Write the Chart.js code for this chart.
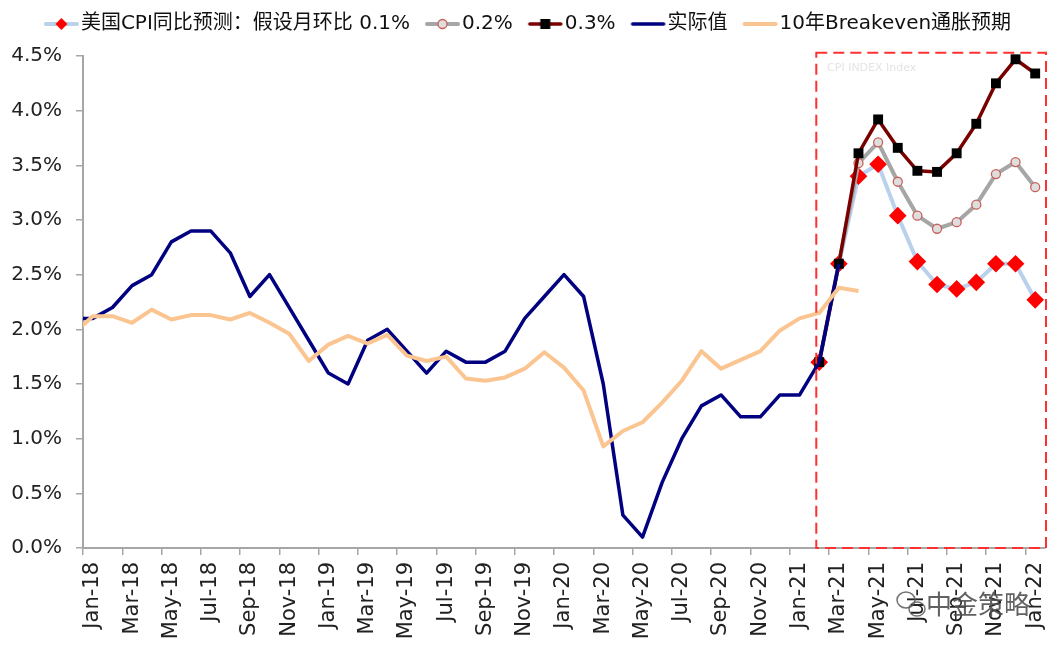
<!DOCTYPE html>
<html lang="zh">
<head>
<meta charset="UTF-8">
<title>美国CPI同比预测</title>
<style>
  html, body { margin: 0; padding: 0; background: #fff; }
  #wrap { width: 1061px; height: 651px; }
</style>
</head>
<body>
<div id="wrap"><canvas id="chart" width="1061" height="651"></canvas></div>

<script src="https://cdn.jsdelivr.net/npm/chart.js"></script>
<script>
    // months, Dec-17 is only there so the lines run into the y axis
    const months = [
        'Dec-17',
        'Jan-18','Feb-18','Mar-18','Apr-18','May-18','Jun-18','Jul-18','Aug-18','Sep-18','Oct-18','Nov-18','Dec-18',
        'Jan-19','Feb-19','Mar-19','Apr-19','May-19','Jun-19','Jul-19','Aug-19','Sep-19','Oct-19','Nov-19','Dec-19',
        'Jan-20','Feb-20','Mar-20','Apr-20','May-20','Jun-20','Jul-20','Aug-20','Sep-20','Oct-20','Nov-20','Dec-20',
        'Jan-21','Feb-21','Mar-21','Apr-21','May-21','Jun-21','Jul-21','Aug-21','Sep-21','Oct-21','Nov-21','Dec-21',
        'Jan-22'
    ];

    const actual = [
        2.1,
        2.1, 2.2, 2.4, 2.5, 2.8, 2.9, 2.9, 2.7, 2.3, 2.5, 2.2, 1.9,
        1.6, 1.5, 1.9, 2.0, 1.8, 1.6, 1.8, 1.7, 1.7, 1.8, 2.1, 2.3,
        2.5, 2.3, 1.5, 0.3, 0.1, 0.6, 1.0, 1.3, 1.4, 1.2, 1.2, 1.4,
        1.4, 1.7, 2.6, null, null, null, null, null, null, null, null, null,
        null
    ];

    const breakeven = [
        1.96,
        2.12, 2.12, 2.06, 2.18, 2.09, 2.13, 2.13, 2.09, 2.15, 2.06, 1.96, 1.71,
        1.86, 1.94, 1.87, 1.95, 1.76, 1.71, 1.75, 1.55, 1.53, 1.56, 1.64, 1.79,
        1.65, 1.44, 0.93, 1.07, 1.15, 1.33, 1.53, 1.80, 1.64, 1.72, 1.80, 1.99,
        2.10, 2.15, 2.38, 2.35, null, null, null, null, null, null, null, null,
        null
    ];

    const lead = new Array(38).fill(null);   // Dec-17 .. Jan-21
    const mom01 = lead.concat([1.7, 2.6, 3.40, 3.51, 3.04, 2.62, 2.41, 2.37, 2.43, 2.60, 2.60, 2.27]);
    const mom02 = lead.concat([1.7, 2.6, 3.52, 3.71, 3.35, 3.04, 2.92, 2.98, 3.14, 3.42, 3.53, 3.30]);
    const mom03 = lead.concat([1.7, 2.6, 3.61, 3.92, 3.66, 3.45, 3.44, 3.61, 3.88, 4.25, 4.47, 4.34]);

    const yTicks = [0, 0.5, 1, 1.5, 2, 2.5, 3, 3.5, 4, 4.5];

    const toPoints = arr => arr.map((v, i) => ({ x: i, y: v }));

    // tick marks sit on month boundaries, one every two months
    const xBounds = [];
    for (let i = 1; i < months.length; i += 2) xBounds.push(i - 0.5);

    // legend icon: line with the marker in the middle, shifted right so it runs up to the text
    function legendIcon(color, width, marker) {
        const c = document.createElement('canvas');
        c.width = 44; c.height = 16;
        const g = c.getContext('2d');
        g.strokeStyle = color; g.lineWidth = width; g.lineCap = 'round';
        g.beginPath(); g.moveTo(10, 8); g.lineTo(41, 8); g.stroke();
        if (marker) marker(g, 25.5, 8);
        return c;
    }
    const icons = [
        legendIcon('#b9d1ec', 4, (g, x, y) => {
            g.fillStyle = '#ff0000';
            g.beginPath(); g.moveTo(x, y - 6); g.lineTo(x + 6, y); g.lineTo(x, y + 6); g.lineTo(x - 6, y); g.closePath(); g.fill();
        }),
        legendIcon('#a6a6a6', 4, (g, x, y) => {
            g.fillStyle = '#dedede'; g.strokeStyle = '#c9605c'; g.lineWidth = 1.3;
            g.beginPath(); g.arc(x, y, 4.5, 0, Math.PI * 2); g.fill(); g.stroke();
        }),
        legendIcon('#7a0000', 3.5, (g, x, y) => {
            g.fillStyle = '#000';
            g.fillRect(x - 5, y - 5, 10, 10);
        }),
        legendIcon('#000080', 3.5),
        legendIcon('#fbc592', 4)
    ];

    // extra room under the legend
    const legendGap = {
        id: 'legendGap',
        beforeInit(chart) {
            const fit = chart.legend.fit;
            chart.legend.fit = function () {
                fit.call(this);
                this.height += 12;
            };
        }
    };

    const boxPlugin = {
        id: 'forecastBox',
        beforeDatasetsDraw(chart) {
            const { ctx, scales } = chart;
            ctx.save();
            ctx.fillStyle = '#e4e4e4';
            ctx.font = "11px 'DejaVu Sans'";
            ctx.textBaseline = 'middle';
            ctx.fillText('CPI INDEX Index', scales.x.getPixelForValue(38.4), scales.y.getPixelForValue(4.39));
            ctx.restore();
        },
        afterDatasetsDraw(chart) {
            const { ctx, scales, chartArea } = chart;
            const l = scales.x.getPixelForValue(37.85);
            const r = chartArea.right + 1;
            const t = scales.y.getPixelForValue(4.53);
            const b = scales.y.getPixelForValue(0);
            ctx.save();
            ctx.strokeStyle = '#ff3030';
            ctx.lineWidth = 2;
            ctx.setLineDash([11, 6]);
            ctx.strokeRect(l, t, r - l, b - t);
            ctx.restore();
        },
        afterDraw(chart) {
            const ctx = chart.ctx;
            ctx.save();
            ctx.strokeStyle = 'rgba(90,90,90,0.85)';
            ctx.lineWidth = 1.5;
            ctx.beginPath(); ctx.ellipse(906, 600, 9, 8, 0, 0, Math.PI * 2); ctx.stroke();
            ctx.beginPath(); ctx.ellipse(917, 609, 8, 7, 0, 0, Math.PI * 2); ctx.stroke();
            ctx.fillStyle = 'rgba(80,80,80,0.9)';
            ctx.font = "26px 'Noto Sans CJK SC'";
            ctx.textBaseline = 'middle';
            ctx.fillText('中金策略', 926, 604);
            ctx.restore();
        }
    };

    const textFont = "'DejaVu Sans', 'Noto Sans CJK SC', sans-serif";

    new Chart(document.getElementById('chart'), {
        type: 'line',
        data: {
            datasets: [
                {
                    label: '美国CPI同比预测：假设月环比 0.1%',
                    data: toPoints(mom01),
                    borderColor: '#b9d1ec', borderWidth: 4,
                    pointStyle: 'rectRot', pointRadius: 6,
                    pointBackgroundColor: '#ff0000', pointBorderColor: '#ff0000',
                    order: 4, clip: 12
                },
                {
                    label: '0.2%',
                    data: toPoints(mom02),
                    borderColor: '#a6a6a6', borderWidth: 4,
                    pointStyle: 'circle', pointRadius: 4.5, pointBorderWidth: 1.3,
                    pointBackgroundColor: '#dedede', pointBorderColor: '#c9605c',
                    order: 3, clip: 12
                },
                {
                    label: '0.3%',
                    data: toPoints(mom03),
                    borderColor: '#7a0000', borderWidth: 3.5,
                    pointStyle: 'rect', pointRadius: 7, pointBorderWidth: 0,
                    pointBackgroundColor: '#000', pointBorderColor: '#000',
                    order: 2, clip: 12
                },
                {
                    label: '实际值',
                    data: toPoints(actual),
                    borderColor: '#000080', borderWidth: 3.5,
                    pointRadius: 0,
                    order: 1
                },
                {
                    label: '10年Breakeven通胀预期',
                    data: toPoints(breakeven),
                    borderColor: '#fbc592', borderWidth: 4,
                    pointRadius: 0,
                    order: 0
                }
            ]
        },
        options: {
            responsive: false,
            animation: false,
            layout: { padding: { left: 11, right: 16, top: -2, bottom: 10 } },
            elements: { line: { tension: 0, borderJoinStyle: 'round' } },
            plugins: {
                tooltip: { enabled: false },
                legend: {
                    position: 'top',
                    labels: {
                        usePointStyle: true,
                        pointStyleWidth: 26,
                        padding: 16,
                        color: '#111',
                        font: { size: 20, family: textFont },
                        generateLabels: chart => chart.data.datasets.map((ds, i) => ({
                            text: ds.label,
                            pointStyle: icons[i],
                            datasetIndex: i,
                            hidden: false,
                            lineWidth: 0,
                            fillStyle: 'rgba(0,0,0,0)',
                            strokeStyle: 'rgba(0,0,0,0)',
                            fontColor: '#111'
                        })),
                        sort: (a, b) => a.datasetIndex - b.datasetIndex
                    }
                }
            },
            scales: {
                x: {
                    type: 'linear',
                    min: 0.5,
                    max: 49.5,
                    bounds: 'data',
                    afterBuildTicks: s => { s.ticks = xBounds.map(v => ({ value: v })); },
                    afterFit: s => { s.height = 93; },
                    ticks: {
                        autoSkip: false,
                        minRotation: 90,
                        maxRotation: 90,
                        labelOffset: 9.8,
                        padding: 7,
                        color: '#222',
                        font: { size: 21, family: textFont },
                        callback: v => months[Math.round(v + 0.5)] || ''
                    },
                    grid: { drawOnChartArea: false, drawTicks: true, tickLength: 7, color: '#a6a6a6', lineWidth: 1.5 },
                    border: { color: '#a6a6a6', width: 2 }
                },
                y: {
                    min: 0,
                    max: 4.5,
                    afterBuildTicks: s => { s.ticks = yTicks.map(v => ({ value: v })); },
                    afterFit: s => { s.width = 72; },
                    ticks: {
                        padding: 14,
                        color: '#222',
                        font: { size: 20, family: textFont },
                        callback: v => v.toFixed(1) + '%'
                    },
                    grid: { drawOnChartArea: false, drawTicks: true, tickLength: 7, color: '#a6a6a6', lineWidth: 1.5 },
                    border: { color: '#a6a6a6', width: 2 }
                }
            }
        },
        plugins: [legendGap, boxPlugin]
    });
</script>
</body>
</html>
